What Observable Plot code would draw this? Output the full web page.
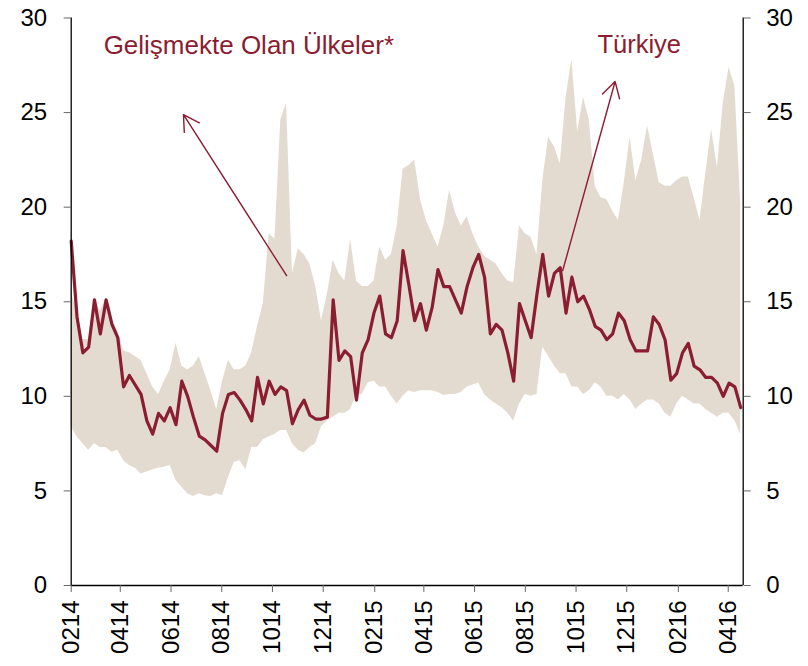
<!DOCTYPE html>
<html><head><meta charset="utf-8">
<script src="https://cdn.jsdelivr.net/npm/d3@7"></script>
<script src="https://cdn.jsdelivr.net/npm/@observablehq/plot@0.6"></script>
<style>body{margin:0;background:#fff}#chart svg{display:block}</style>
</head><body><div id="chart"></div>
<script>
// Weekly readings starting 2014-02-01
const seriesStart = "2014-02-01";
const axisEnd = "2016-04-19";
const stepDays = 7;

const turkiye = [18.2,14.2,12.3,12.6,15.1,13.3,15.1,13.8,13.1,10.5,
  11.1,10.6,10.1,8.7,8.0,9.1,8.7,9.4,8.5,10.8,
  10.0,8.9,7.9,7.7,7.4,7.1,9.1,10.1,10.2,9.8,
  9.3,8.7,11.0,9.6,10.8,10.1,10.5,10.3,8.55,9.3,
  9.8,9.0,8.8,8.8,8.9,15.1,11.9,12.4,12.1,9.8,
  12.3,13.0,14.4,15.3,13.3,13.1,14.0,17.7,15.9,14.0,
  14.9,13.5,14.7,16.7,15.8,15.8,15.1,14.4,15.8,16.8,
  17.5,16.3,13.3,13.8,13.5,12.3,10.8,14.9,14.0,13.1,
  15.4,17.5,15.3,16.5,16.8,14.4,16.3,15.0,15.3,14.6,
  13.7,13.5,13.0,13.3,14.4,14.0,13.0,12.4,12.4,12.4,
  14.2,13.8,13.0,10.85,11.2,12.3,12.8,11.6,11.4,11.0,
  11.0,10.7,10.0,10.7,10.5,9.4];

const emUpper = [15.5,14.5,13.0,13.0,15.2,14.5,15.2,14.0,13.5,12.4,
  12.3,12.1,11.9,11.2,10.5,10.1,10.8,11.4,12.8,11.6,
  11.4,11.6,12.1,11.2,10.3,9.3,10.8,11.9,11.4,11.4,
  11.6,12.3,13.7,14.9,18.6,18.3,24.6,25.5,16.5,17.8,
  17.5,17.0,15.8,14.0,15.4,17.2,16.5,16.1,18.3,16.1,
  15.8,15.8,16.1,17.9,17.2,17.5,19.0,22.0,22.2,22.5,
  20.4,19.3,18.6,17.9,19.0,20.9,19.7,19.0,19.5,18.6,
  17.9,17.4,17.2,17.0,16.5,16.1,16.0,19.0,18.6,18.4,
  17.5,21.4,23.7,23.2,22.3,25.8,27.8,24.0,25.8,24.6,
  21.1,20.5,20.4,19.8,19.3,21.3,23.7,21.4,22.5,24.3,
  22.8,21.3,21.1,21.1,21.4,21.6,21.6,20.5,19.3,21.8,
  24.1,22.1,25.5,27.4,26.4,20.2];

const emLower = [8.4,7.85,7.5,7.15,7.5,7.3,7.3,7.05,7.15,6.6,
  6.35,6.2,5.9,6.0,6.1,6.2,6.25,6.35,5.55,5.2,
  4.85,4.7,4.85,4.75,4.7,4.85,4.75,5.7,6.5,6.6,
  6.1,7.3,7.3,7.7,7.85,8.0,8.2,8.2,7.5,7.15,
  7.0,7.3,7.5,8.4,8.7,8.9,9.1,9.1,9.3,10.1,
  10.1,10.7,10.8,10.5,10.5,10.0,9.6,10.0,10.3,10.2,
  10.3,10.3,10.3,10.2,10.05,10.1,10.1,10.2,10.5,10.6,
  10.7,10.1,9.8,9.6,9.4,9.1,8.7,9.6,10.1,10.0,
  10.1,12.6,12.1,11.6,11.2,11.2,10.5,10.5,10.1,10.3,
  10.7,10.5,10.0,10.0,9.8,10.1,9.8,9.3,9.6,9.8,
  9.8,9.6,9.1,8.9,9.6,10.0,9.8,9.6,9.6,9.3,
  9.1,8.9,9.1,9.1,8.7,8.0];

const tickDates = ["2014-02-01","2014-04-01","2014-06-01","2014-08-01","2014-10-01","2014-12-01",
  "2015-02-01","2015-04-01","2015-06-01","2015-08-01","2015-10-01","2015-12-01",
  "2016-02-01","2016-04-01"];
const yTicks = [0,5,10,15,20,25,30];

const noteTexts = ["Gelişmekte Olan Ülkeler*","Türkiye"];
const noteDates = ["2014-03-12","2015-12-16"];
const noteValues = [28.53,28.6];
const noteAnchors = ["start","middle"];

const arrowFromDates = ["2014-10-18","2015-09-15"];
const arrowFromValues = [16.38,16.65];
const arrowToDates = ["2014-06-16","2015-11-17"];
const arrowToValues = [24.89,26.64];

const parse = d3.utcParse("%Y-%m-%d");
const start = parse(seriesStart);
const rows = turkiye.map((v, i) => ({
  date: d3.utcDay.offset(start, i * stepDays),
  tr: v, hi: emUpper[i], lo: emLower[i]
}));
const notes = noteTexts.map((t, i) => ({text: t, date: parse(noteDates[i]), value: noteValues[i], anchor: noteAnchors[i]}));
const arrows = arrowFromDates.map((d, i) => ({
  x1: parse(d), y1: arrowFromValues[i], x2: parse(arrowToDates[i]), y2: arrowToValues[i]
}));

const red = "#8b1d31";
const band = "#e4dbd0";

const chart = Plot.plot({
  width: 808, height: 666,
  marginLeft: 70.7, marginRight: 65.3, marginTop: 17.5, marginBottom: 81,
  style: {fontFamily: "'Liberation Sans', Arial, sans-serif", fontSize: "24px", background: "#fff", color: "#000"},
  x: {type: "utc", domain: [parse(seriesStart), parse(axisEnd)]},
  y: {domain: [0, 30]},
  marks: [
    Plot.areaY(rows, {x: "date", y1: "lo", y2: "hi", fill: band}),
    Plot.line(rows, {x: "date", y: "tr", stroke: red, strokeWidth: 3.2, strokeLinejoin: "round"}),
    Plot.arrow(arrows, {x1: "x1", y1: "y1", x2: "x2", y2: "y2", stroke: red, strokeWidth: 1.4, headLength: 19, headAngle: 60}),
    Plot.text(notes.filter(d => d.anchor === "start"), {x: "date", y: "value", text: "text", textAnchor: "start", fill: red, fontSize: 26}),
    Plot.text(notes.filter(d => d.anchor === "middle"), {x: "date", y: "value", text: "text", textAnchor: "middle", fill: red, fontSize: 25.5}),
    Plot.ruleX([parse(seriesStart)], {stroke: "#000", strokeWidth: 1.3}),
    Plot.ruleX([parse(axisEnd)], {stroke: "#000", strokeWidth: 1.3}),
    Plot.ruleY([0], {stroke: "#000", strokeWidth: 1.3}),
    Plot.axisY({anchor: "left", ticks: yTicks, tickSize: 7, tickPadding: 17, fontSize: 24, stroke: "#666", label: null}),
    Plot.axisY({anchor: "right", ticks: yTicks, tickSize: 7, tickPadding: 16, fontSize: 24, stroke: "#666", label: null}),
    Plot.axisX({ticks: tickDates.map(parse), tickFormat: d3.utcFormat("%m%y"), tickRotate: -90, tickSize: 7, tickPadding: 8, fontSize: 24, stroke: "#666", label: null})
  ]
});
document.getElementById("chart").appendChild(chart);
</script>
</body></html>
